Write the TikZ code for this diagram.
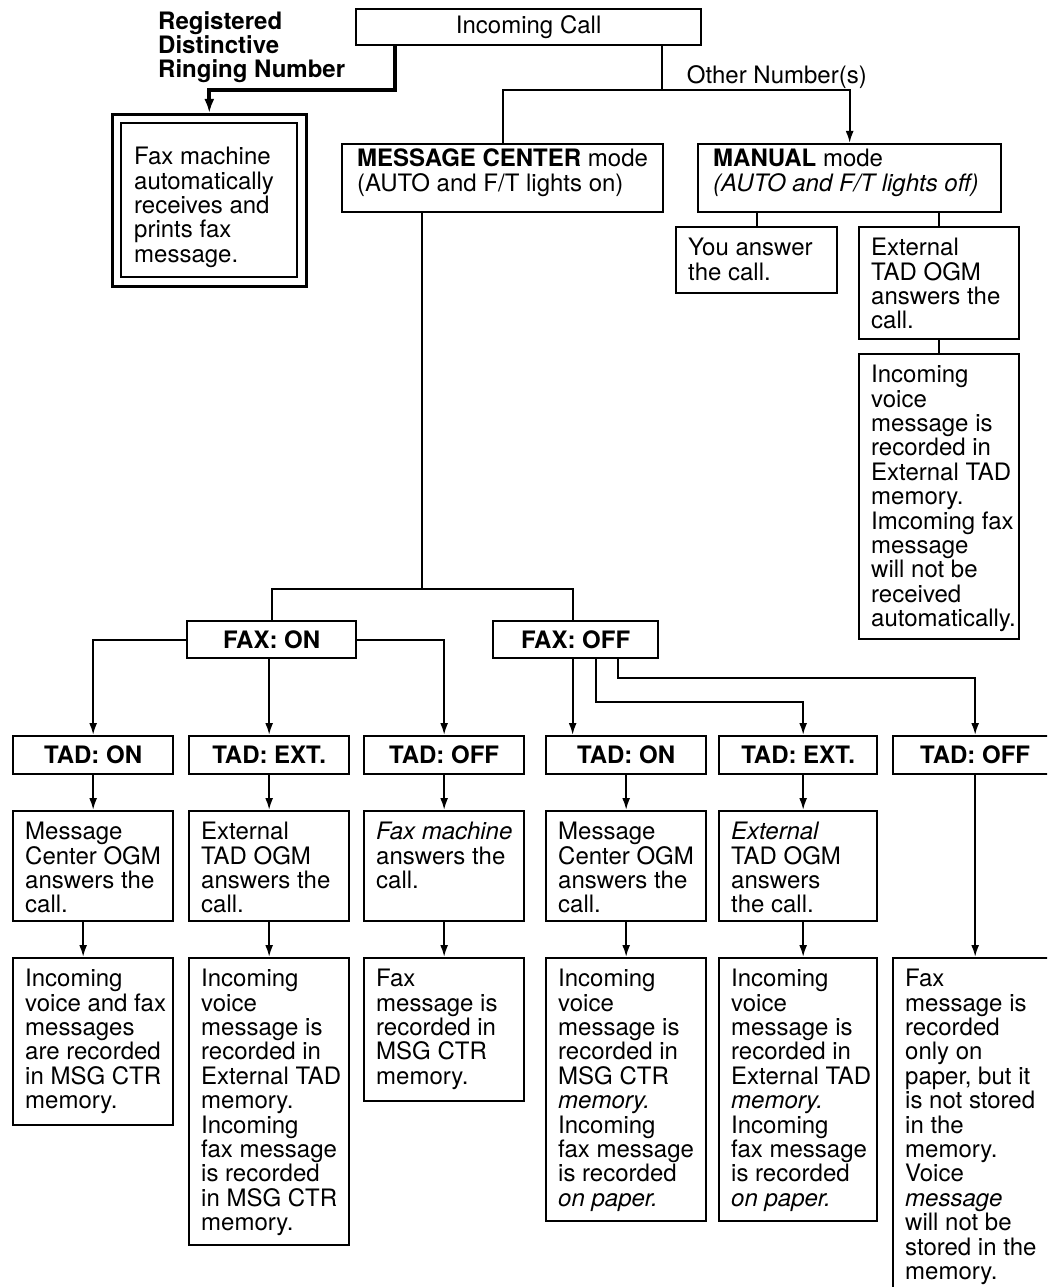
\documentclass[tikz,border=0pt]{standalone}
\usepackage{fontspec}
\setmainfont{TeX Gyre Heros}
\usetikzlibrary{arrows.meta}

\newcommand\flowfont{\fontsize{24}{24.4}\selectfont}

\begin{document}
\begin{tikzpicture}[x=1pt, y=-1pt,
  box/.style={draw, line width=2.3pt, inner sep=0pt, anchor=north west},
  txt/.style={inner sep=0pt, anchor=north west, align=left, font=\flowfont},
  tad/.style={box, minimum height=38pt, font=\flowfont\bfseries},
  link/.style={line width=2pt},
  arr/.style={link, -{Latex[length=12pt,width=8pt]}}]

\useasboundingbox (0,0) rectangle (1047,1287);
\clip (0,0) rectangle (1047,1287);

% top
\node[box, minimum width=345pt, minimum height=36pt, font=\flowfont] (inc) at (355,8) {Incoming Call};
\node[txt, font=\flowfont\bfseries] (reg) at (158,11) {Registered\\Distinctive\\Ringing Number};

\node[box, line width=2.6pt, minimum width=194pt, minimum height=172pt] (dbl) at (111,113) {};
\node[box, minimum width=176pt, minimum height=154pt] (dbl in) at (120,122) {};
\node[txt] at ([shift={(14pt,-25pt)}]dbl in.north west) {Fax machine\\automatically\\receives and\\prints fax\\message.};

\node[box, minimum width=321pt, minimum height=68pt] (mc) at (341,143) {};
\node[txt] at ([shift={(16pt,-6pt)}]mc.north west) {\textbf{MESSAGE CENTER} mode\\(AUTO and F/T lights on)};

\node[box, minimum width=303pt, minimum height=68pt] (man) at (697,143) {};
\node[txt] at ([shift={(16pt,-6pt)}]man.north west) {\textbf{MANUAL} mode\\\textit{(AUTO and F/T lights off)}};

% manual branch
\node[box, minimum width=161pt, minimum height=66pt] (you) at (675,226) {};
\node[txt] at ([shift={(13pt,-12pt)}]you.north west) {You answer\\the call.};
\node[box, minimum width=160pt, minimum height=112pt] (ext) at (858,226) {};
\node[txt] at ([shift={(13pt,-12pt)}]ext.north west) {External\\TAD OGM\\answers the\\call.};
\node[box, minimum width=160pt, minimum height=285pt] (inv) at (858,353) {};
\node[txt] at ([shift={(13pt,-12pt)}]inv.north west) {Incoming\\voice\\message is\\recorded in\\External TAD\\memory.\\Imcoming fax\\message\\will not be\\received\\automatically.};

% fax switch
\node[tad, minimum width=169pt, minimum height=37pt] (fon) at (186,620) {FAX: ON};
\node[tad, minimum width=165pt, minimum height=37pt] (foff) at (492,620) {FAX: OFF};

\node[tad, minimum width=160pt] (t1) at (12,735) {TAD: ON};
\node[tad, minimum width=160pt] (t2) at (188,735) {TAD: EXT.};
\node[tad, minimum width=160pt] (t3) at (363,735) {TAD: OFF};
\node[tad, minimum width=160pt] (t4) at (545,735) {TAD: ON};
\node[tad, minimum width=158pt] (t5) at (718,735) {TAD: EXT.};
\node[tad, minimum width=164pt] (t6) at (892,735) {TAD: OFF};

% who answers
\node[box, minimum width=160pt, minimum height=110pt] (c1a) at (12,810) {};
\node[txt] at ([shift={(13pt,-12pt)}]c1a.north west) {Message\\Center OGM\\answers the\\call.};
\node[box, minimum width=160pt, minimum height=110pt] (c2a) at (188,810) {};
\node[txt] at ([shift={(13pt,-12pt)}]c2a.north west) {External\\TAD OGM\\answers the\\call.};
\node[box, minimum width=160pt, minimum height=110pt] (c3a) at (363,810) {};
\node[txt] at ([shift={(13pt,-12pt)}]c3a.north west) {\textit{Fax machine}\\answers the\\call.};
\node[box, minimum width=160pt, minimum height=110pt] (c4a) at (545,810) {};
\node[txt] at ([shift={(13pt,-12pt)}]c4a.north west) {Message\\Center OGM\\answers the\\call.};
\node[box, minimum width=158pt, minimum height=110pt] (c5a) at (718,810) {};
\node[txt] at ([shift={(13pt,-12pt)}]c5a.north west) {\textit{External}\\TAD OGM\\answers\\the call.};

% where it is recorded
\node[box, minimum width=160pt, minimum height=167pt] (c1b) at (12,957) {};
\node[txt] at ([shift={(13pt,-12pt)}]c1b.north west) {Incoming\\voice and fax\\messages\\are recorded\\in MSG CTR\\memory.};
\node[box, minimum width=160pt, minimum height=287pt] (c2b) at (188,957) {};
\node[txt] at ([shift={(13pt,-12pt)}]c2b.north west) {Incoming\\voice\\message is\\recorded in\\External TAD\\memory.\\Incoming\\fax message\\is recorded\\in MSG CTR\\memory.};
\node[box, minimum width=160pt, minimum height=143pt] (c3b) at (363,957) {};
\node[txt] at ([shift={(13pt,-12pt)}]c3b.north west) {Fax\\message is\\recorded in\\MSG CTR\\memory.};
\node[box, minimum width=160pt, minimum height=263pt] (c4b) at (545,957) {};
\node[txt] at ([shift={(13pt,-12pt)}]c4b.north west) {Incoming\\voice\\message is\\recorded in\\MSG CTR\\\textit{memory.}\\Incoming\\fax message\\is recorded\\\textit{on paper.}};
\node[box, minimum width=158pt, minimum height=263pt] (c5b) at (718,957) {};
\node[txt] at ([shift={(13pt,-12pt)}]c5b.north west) {Incoming\\voice\\message is\\recorded in\\External TAD\\\textit{memory.}\\Incoming\\fax message\\is recorded\\\textit{on paper.}};
\node[box, minimum width=164pt, minimum height=345pt] (c6b) at (892,957) {};
\node[txt] at ([shift={(13pt,-12pt)}]c6b.north west) {Fax\\message is\\recorded\\only on\\paper, but it\\is not stored\\in the\\memory.\\Voice\\\textit{message}\\will not be\\stored in the\\memory.};

% connectors
\draw[line width=3.8pt, -{Latex[length=14pt,width=10pt]}] ([xshift=-134pt]inc.south) -- ++(0,44) -| (dbl.north);

\coordinate (oth) at ([xshift=133pt]inc.south);
\draw[link] (oth) -- ++(0,44) coordinate (fork);
\node[txt, anchor=base west] (oth lbl) at ([shift={(25pt,-37pt)}]oth) {Other Number(s)};
\draw[link] (mc.north) |- (fork);
\draw[arr] (fork) -| (man.north);

\draw[link] (you.north |- man.south) -- (you.north);
\draw[link] (ext.north |- man.south) -- (ext.north);
\draw[link] (ext) -- (inv);

\draw[link] ([xshift=-81pt]mc.south) -- ++(0,376) coordinate (fax split);
\draw[link] (fon.north) |- (fax split) -| ([xshift=-3pt]foff.north);

\draw[arr] (fon.west) -| (t1.north);
\draw[arr] (t2.north |- fon.south) -- (t2.north);
\draw[arr] (fon.east) -| (t3.north);
\draw[arr] ([xshift=-3pt]foff.south) -- ([xshift=-3pt]foff.south |- t4.north);
\draw[arr] ([xshift=20pt]foff.south) -- ++(0,43) -| ([xshift=5pt]t5.north);
\draw[arr] ([xshift=42pt]foff.south) -- ++(0,19) -| (t6.north);

\draw[arr] (t1) -- (c1a);
\draw[arr] (t2) -- (c2a);
\draw[arr] (t3) -- (c3a);
\draw[arr] (t4) -- (c4a);
\draw[arr] ([xshift=5pt]t5.south) -- ([xshift=5pt]c5a.north);

\draw[arr] ([xshift=-10pt]c1a.south) -- ([xshift=-10pt]c1b.north);
\draw[arr] (c2a) -- (c2b);
\draw[arr] (c3a) -- (c3b);
\draw[arr] (c4a) -- (c4b);
\draw[arr] ([xshift=5pt]c5a.south) -- ([xshift=5pt]c5b.north);
\draw[arr] (t6) -- (c6b);

\end{tikzpicture}
\end{document}
